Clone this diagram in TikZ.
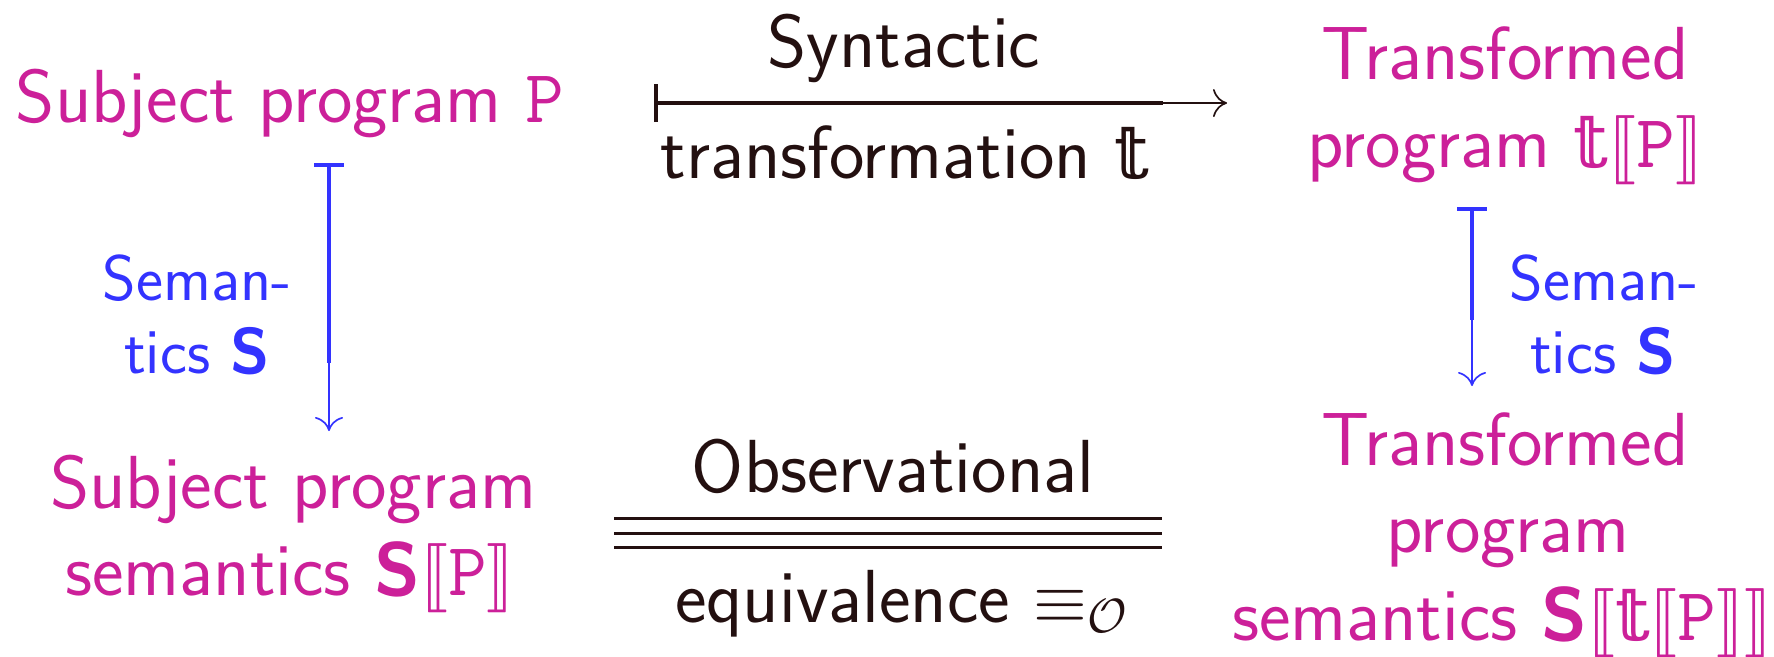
\documentclass[tikz,border=0pt]{standalone}
\usepackage{amsmath,amssymb}
\usepackage{stmaryrd}
\usepackage{fontspec}
\newfontfamily\dsfont{DejaVu Serif}
\usetikzlibrary{arrows.meta}
\definecolor{mag}{RGB}{204,32,153}
\definecolor{blu}{RGB}{51,51,255}
\definecolor{ink}{RGB}{35,16,16}
\newcommand{\bS}{\textsf{\textbf{S}}}
\newcommand{\tP}{\ensuremath{\mathtt{P}}}
\newcommand{\bbt}{{\dsfont 𝕥}}
\tikzset{
  magtext/.style={anchor=base, inner sep=0pt, text=mag, font=\sffamily\fontsize{18.8}{22}\selectfont},
  inktext/.style={anchor=base, inner sep=0pt, text=ink, font=\sffamily\fontsize{18.8}{22}\selectfont},
  blutext/.style={anchor=base, inner sep=0pt, text=blu, font=\sffamily\fontsize{16.1}{19}\selectfont},
  thickpart/.style={line width=0.85pt},
  thinpart/.style={line width=0.42pt, -{Computer Modern Rightarrow[width=7pt,length=3.5pt]}},
  eqline/.style={line width=0.75pt, draw=ink},
}
\begin{document}
\begin{tikzpicture}[x=0.25pt,y=-0.25pt]
\useasboundingbox (0,0) rectangle (1774,656);
% top-left
\node[magtext] (sp) at (290,122) {Subject program \tP};
% top-right
\node[magtext] (tp1) at (1505,79) {Transformed};
\node[magtext] (tp2) at (1505,167) {program \bbt$\llbracket$\tP$\rrbracket$};
% bottom-left
\node[magtext] (ss1) at (293,508) {Subject program};
\node[magtext] (ss2) at (290,595) {semantics \bS$\llbracket$\tP$\rrbracket$};
% bottom-right
\node[magtext] (ts1) at (1505,465) {Transformed};
\node[magtext] (ts2) at (1508,552) {program};
\node[magtext] (ts3) at (1502,640) {semantics \bS$\llbracket$\bbt$\llbracket$\tP$\rrbracket\rrbracket$};
% labels
\node[inktext] (syn1) at (904,67) {Syntactic};
\node[inktext] (syn2) at (905,178) {transformation \bbt};
\node[inktext] (obs1) at (893,492) {Observational};
\node[inktext] (obs2) at (902,622) {equivalence $\equiv_{\mathcal{O}}$};
\node[blutext] (sl1) at (197,300) {Seman-};
\node[blutext] (sl2) at (197,373) {tics \bS};
\node[blutext] (sr1) at (1604,300) {Seman-};
\node[blutext] (sr2) at (1603,373) {tics \bS};
% arrow coordinates
\coordinate (h0) at (654,103);
\coordinate (h1) at (1163,103);
\coordinate (h2) at (1227,103);
\coordinate (l0) at (329,163);
\coordinate (l1) at (329,363);
\coordinate (l2) at (329,431);
\coordinate (r0) at (1472,207);
\coordinate (r1) at (1472,320);
\coordinate (r2) at (1472,386);
% top horizontal arrow
\draw[ink, thickpart, {Bar[width=9.5pt,line width=0.9pt]}-] (h0) -- (h1);
\draw[ink, thinpart] (h1) -- (h2);
% left vertical arrow
\draw[blu, thickpart, {Bar[width=7.5pt,line width=0.9pt]}-] (l0) -- (l1);
\draw[blu, thinpart] (l1) -- (l2);
% right vertical arrow
\draw[blu, thickpart, {Bar[width=7.5pt,line width=0.9pt]}-] (r0) -- (r1);
\draw[blu, thinpart] (r1) -- (r2);
% triple equivalence lines
\coordinate (e0a) at (614,518); \coordinate (e1a) at (1162,518);
\coordinate (e0b) at (614,533); \coordinate (e1b) at (1162,533);
\coordinate (e0c) at (614,547); \coordinate (e1c) at (1162,547);
\draw[eqline] (e0a) -- (e1a);
\draw[eqline] (e0b) -- (e1b);
\draw[eqline] (e0c) -- (e1c);
\end{tikzpicture}
\end{document}
